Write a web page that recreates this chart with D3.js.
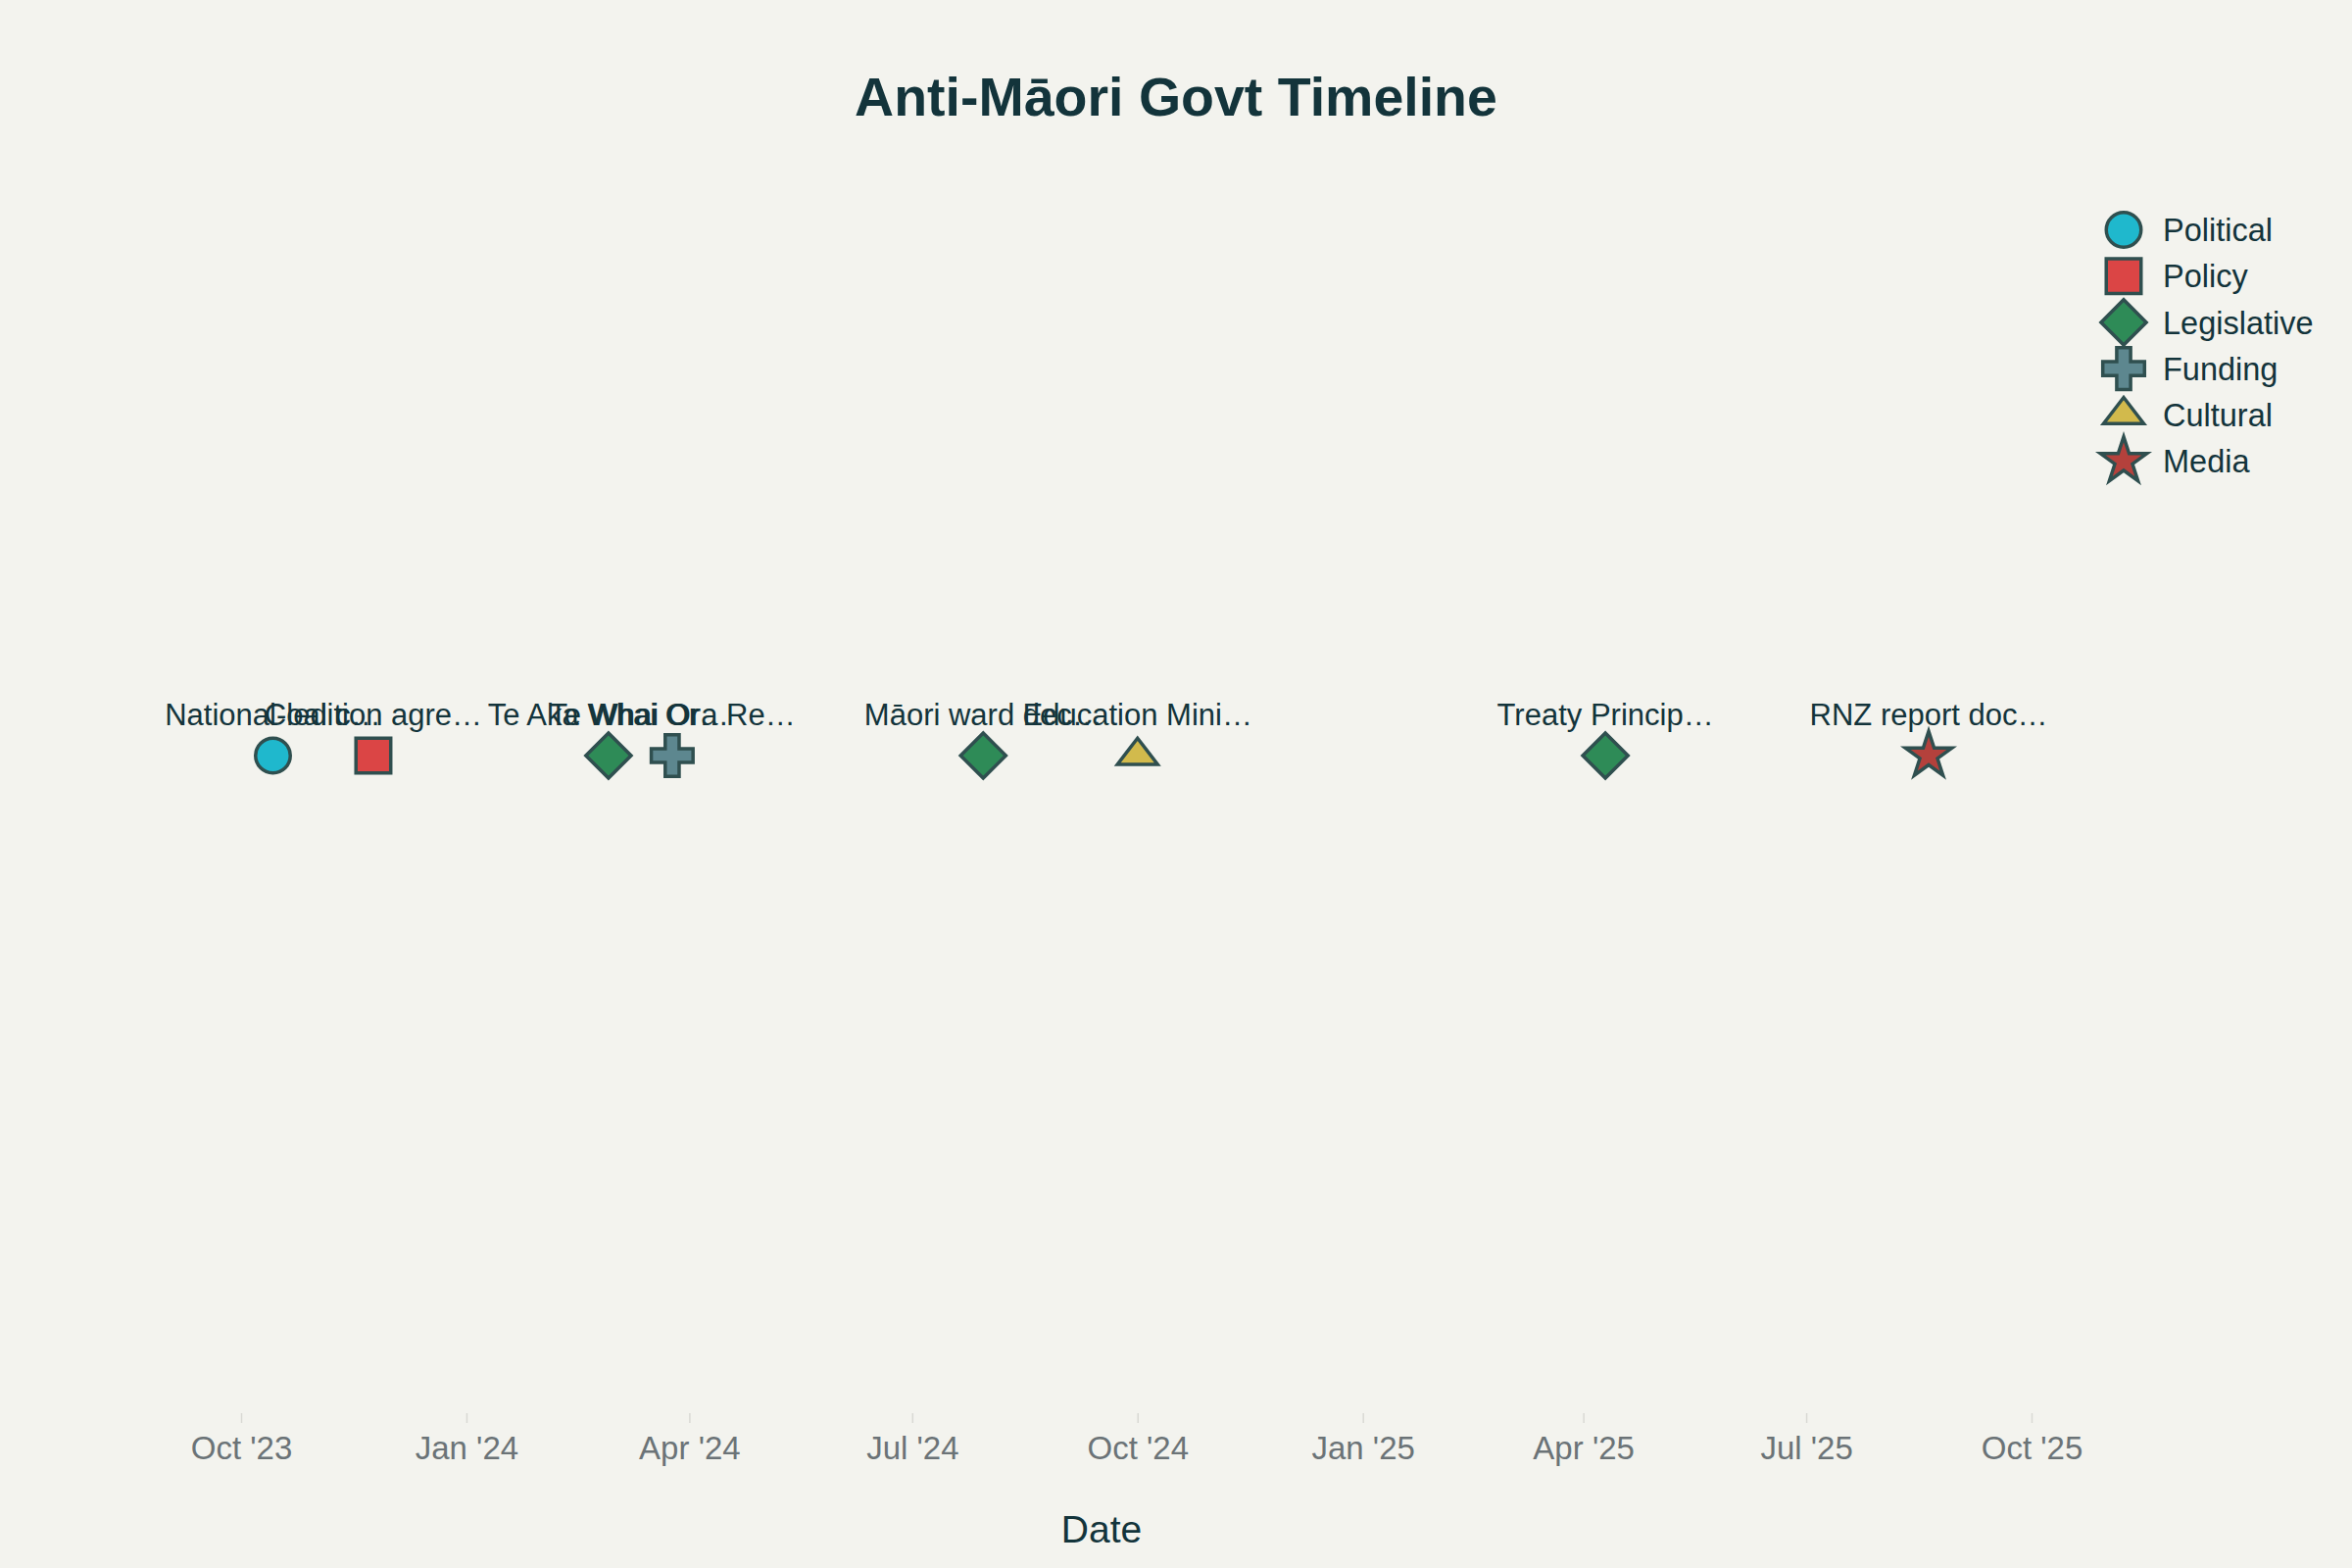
<!DOCTYPE html>
<html>
<head>
<meta charset="utf-8">
<script src="https://cdn.jsdelivr.net/npm/d3@7"></script>
<style>
  body { margin: 0; background: #F3F3EE; }
  text { font-family: "Liberation Sans", Arial, sans-serif; }
</style>
</head>
<body>
<div id="chart"></div>
<script>
// event data (labels as shown on the chart, already cut)
const eventDates = ['2023-10-14', '2023-11-24', '2024-02-28', '2024-03-25', '2024-07-30', '2024-10-01', '2025-04-10', '2025-08-20']
const eventLabels = ['National-led c…', 'Coalition agre…', 'Te Aka Whai Or…', 'Te Whai Ora Re…', 'Māori ward dec…', 'Education Mini…', 'Treaty Princip…', 'RNZ report doc…']
const eventTypes = ['Political', 'Policy', 'Legislative', 'Funding', 'Legislative', 'Cultural', 'Legislative', 'Media']

const categories = ['Political', 'Policy', 'Legislative', 'Funding', 'Cultural', 'Media']
const catColors = ['#1FB8CD', '#DB4545', '#2E8B57', '#5D878F', '#D2BA4C', '#B4413C']
const catShapes = ['circle', 'square', 'diamond', 'cross', 'triangle', 'star']

const tickDates = ['2023-10-01', '2024-01-01', '2024-04-01', '2024-07-01', '2024-10-01', '2025-01-01', '2025-04-01', '2025-07-01', '2025-10-01']
const tickLabels = ["Oct '23", "Jan '24", "Apr '24", "Jul '24", "Oct '24", "Jan '25", "Apr '25", "Jul '25", "Oct '25"]

const W = 2400
const H = 1600
const plotBottom = 1442
const plotTop = 100
const markerR = 17.75

// marker outlines, same proportions as the usual plotting symbols
function shapePath (shape, r) {
  if (shape === 'circle') {
    const p = d3.path()
    p.arc(0, 0, r, 0, 2 * Math.PI)
    return p.toString()
  }
  if (shape === 'square') {
    return `M${r},${r}H${-r}V${-r}H${r}Z`
  }
  if (shape === 'diamond') {
    const rd = r * 1.3
    return `M${rd},0L0,${rd}L${-rd},0L0,${-rd}Z`
  }
  if (shape === 'cross') {
    const a = r * 0.4
    const b = r * 1.2
    return `M${b},${a}H${a}V${b}H${-a}V${a}H${-b}V${-a}H${-a}V${-b}H${a}V${-a}H${b}Z`
  }
  if (shape === 'triangle') {
    const rt = r * 2 / Math.sqrt(3)
    return `M${-rt},${r / 2}H${rt}L0,${-r}Z`
  }
  // star
  const rs = r * 1.4
  const x1 = rs * 0.225, x2 = rs * 0.951, x3 = rs * 0.363, x4 = rs * 0.588
  const y1 = -rs, y2 = rs * -0.309, y3 = rs * 0.118, y4 = rs * 0.809, y5 = rs * 0.382
  return `M${x1},${y2}H${x2}L${x3},${y3}L${x4},${y4}L0,${y5}L${-x4},${y4}L${-x3},${y3}L${-x2},${y2}H${-x1}L0,${y1}Z`
}

const parse = d3.utcParse('%Y-%m-%d')

const events = eventDates.map((d, i) => ({
  date: parse(d),
  label: eventLabels[i],
  type: eventTypes[i]
}))

const svg = d3.select('#chart')
  .append('svg')
  .attr('width', W)
  .attr('height', H)
  .style('background', '#F3F3EE')

const x = d3.scaleUtc()
  .domain([parse('2023-10-01'), parse('2025-10-01')])
  .range([246, 2073])

const y = d3.scaleLinear()
  .domain([-1, 1])
  .range([plotBottom, plotTop])

const color = d3.scaleOrdinal().domain(categories).range(catColors)
const shape = d3.scaleOrdinal().domain(categories).range(catShapes)

// title
svg.append('text')
  .attr('x', 1200)
  .attr('y', 118)
  .attr('text-anchor', 'middle')
  .style('font-size', '55.5px')
  .style('font-weight', 'bold')
  .style('fill', '#13343B')
  .text('Anti-Māori Govt Timeline')

// x axis
const xAxis = d3.axisBottom(x)
  .tickValues(tickDates.map(parse))
  .tickFormat((d, i) => tickLabels[i])
  .tickSize(10)
  .tickPadding(14)

const gx = svg.append('g')
  .attr('transform', `translate(0,${plotBottom})`)
  .call(xAxis)

gx.select('.domain').remove()
gx.selectAll('.tick line').attr('stroke', '#D9D9D4').attr('stroke-width', 1.5)
gx.selectAll('.tick text')
  .style('font-size', '33px')
  .style('fill', '#6B7377')
  .style('font-family', '"Liberation Sans", Arial, sans-serif')

svg.append('text')
  .attr('x', 1124)
  .attr('y', 1574)
  .attr('text-anchor', 'middle')
  .style('font-size', '39px')
  .style('fill', '#13343B')
  .text('Date')

// events
const pts = svg.append('g')
  .selectAll('g.event')
  .data(events)
  .enter()
  .append('g')
  .attr('class', 'event')
  .attr('transform', d => `translate(${x(d.date)},${y(0)})`)

pts.append('path')
  .attr('d', d => shapePath(shape(d.type), markerR))
  .attr('fill', d => color(d.type))
  .attr('stroke', '#2F4F4F')
  .attr('stroke-width', 3.5)

pts.append('text')
  .attr('y', 740 - y(0))
  .attr('text-anchor', 'middle')
  .style('font-size', '31px')
  .style('fill', '#13343B')
  .text(d => d.label)

// legend
const legend = svg.append('g')
  .selectAll('g.legend')
  .data(categories)
  .enter()
  .append('g')
  .attr('class', 'legend')
  .attr('transform', (d, i) => `translate(2167,${234.5 + i * 47.2})`)

legend.append('path')
  .attr('d', d => shapePath(shape(d), markerR))
  .attr('fill', d => color(d))
  .attr('stroke', '#2F4F4F')
  .attr('stroke-width', 3.5)

legend.append('text')
  .attr('x', 40)
  .attr('dy', '0.36em')
  .style('font-size', '32.5px')
  .style('fill', '#13343B')
  .text(d => d)
</script>
</body>
</html>
